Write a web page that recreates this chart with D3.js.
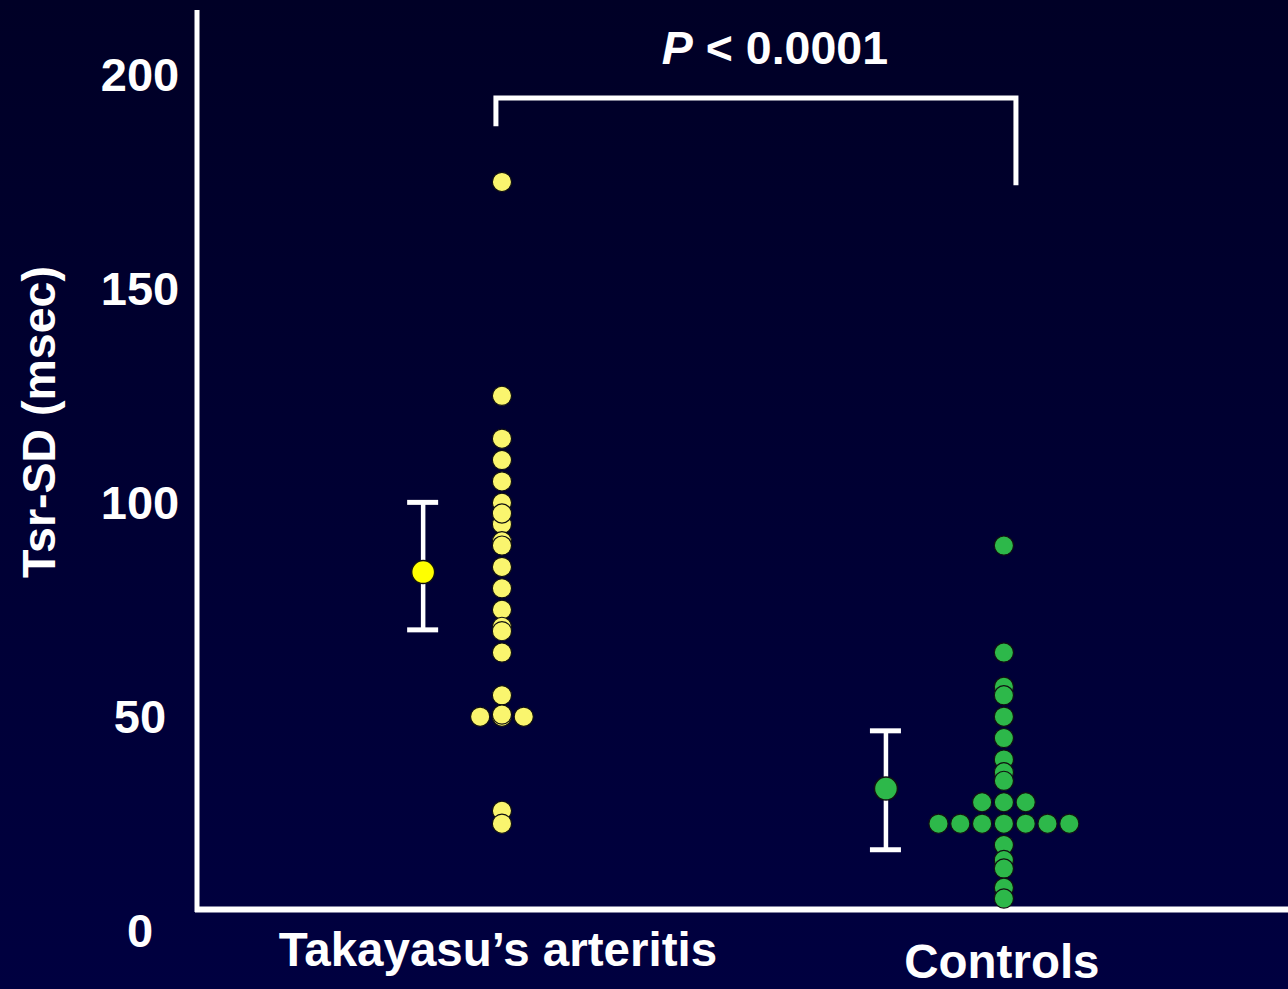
<!DOCTYPE html>
<html>
<head>
<meta charset="utf-8">
<script src="https://cdn.jsdelivr.net/npm/d3@7"></script>
<style>
  html, body { margin: 0; padding: 0; background: #000030; }
  svg { display: block; }
</style>
</head>
<body>
<svg id="chart" width="1288" height="989"></svg>
<script>
// Tsr-SD dot plot, Takayasu's arteritis vs controls
const groups = ['Takayasu\u2019s arteritis', 'Controls'];
const groupPos = [1, 2];          // column position of each group's dots
const meanPos = [0.843, 1.765];   // column position of each group's mean bar
const labelPos = [0.992, 1.996];

const takayasuValues = [175, 125, 115, 110, 105, 100, 95, 97.5, 91, 90, 85, 80, 75, 71, 70, 65, 55,
  50, 50, 50, 50.5, 28, 25];
const controlValues = [90, 65, 57, 55, 50, 45, 40, 37, 35, 30, 30, 30,
  25, 25, 25, 25, 25, 25, 25, 20, 16.5, 14.5, 10, 7.5];

const means = [83.8, 33.2];
const barLow = [70.3, 18.9];
const barHigh = [100.1, 46.7];

const yTicks = [0, 50, 100, 150, 200];
const bracketX = [0.988, 2.024];
const bracketY = [188, 194.6, 174.2]; // left end, top, right end
const pLabel = '< 0.0001';

const dotColors = ['#faf56e', '#2db84a'];
const meanColors = ['#ffff00', '#2db84a'];

const width = 1288;
const height = 989;
const svg = d3.select('#chart');

// Background gradient
const defs = svg.append('defs');
const grad = defs.append('linearGradient')
  .attr('id', 'bg')
  .attr('x1', 0).attr('y1', 0).attr('x2', 0).attr('y2', 1);
grad.append('stop').attr('offset', '0%').attr('stop-color', '#000026');
grad.append('stop').attr('offset', '100%').attr('stop-color', '#000040');
svg.append('rect')
  .attr('width', width)
  .attr('height', height)
  .attr('fill', 'url(#bg)');

const x = d3.scaleLinear().domain([0, 2.566]).range([0, 1288]);
const y = d3.scaleLinear().domain([0, 200]).range([930.6, 75]);

const font = '"Liberation Sans", Arial, Helvetica, sans-serif';
const r = 9.6;
const spacing = 21.8;

// Axes lines
svg.append('line')
  .attr('x1', 197).attr('y1', 10)
  .attr('x2', 197).attr('y2', 912)
  .attr('stroke', '#fff').attr('stroke-width', 5);
svg.append('line')
  .attr('x1', 195).attr('y1', 909.5)
  .attr('x2', width).attr('y2', 909.5)
  .attr('stroke', '#fff').attr('stroke-width', 6);

// Y tick labels
svg.append('g').selectAll('text')
  .data(yTicks)
  .join('text')
  .attr('x', 140)
  .attr('y', d => y(d) + 16)
  .attr('text-anchor', 'middle')
  .attr('fill', '#fff')
  .attr('font-family', font)
  .attr('font-weight', 'bold')
  .attr('font-size', '47px')
  .text(d => d);

// Y axis title
svg.append('text')
  .attr('transform', 'translate(55,422) rotate(-90)')
  .attr('text-anchor', 'middle')
  .attr('fill', '#fff')
  .attr('font-family', font)
  .attr('font-weight', 'bold')
  .attr('font-size', '46.5px')
  .text('Tsr-SD (msec)');

// Group labels
svg.append('g').selectAll('text')
  .data(groups)
  .join('text')
  .attr('x', (d, i) => x(labelPos[i]))
  .attr('y', (d, i) => i === 0 ? 966 : 978)
  .attr('text-anchor', 'middle')
  .attr('fill', '#fff')
  .attr('font-family', font)
  .attr('font-weight', 'bold')
  .attr('font-size', '47.5px')
  .text(d => d);

// Swarm layout: identical values are spread side by side
function swarm(values) {
  const counts = d3.rollup(values, v => v.length, d => d);
  const seen = new Map();
  return values.map(v => {
    const n = counts.get(v);
    const k = seen.get(v) || 0;
    seen.set(v, k + 1);
    return { value: v, offset: (k - (n - 1) / 2) * spacing };
  });
}

[takayasuValues, controlValues].forEach((vals, gi) => {
  svg.append('g').selectAll('circle')
    .data(swarm(vals))
    .join('circle')
    .attr('cx', d => x(groupPos[gi]) + d.offset)
    .attr('cy', d => y(d.value))
    .attr('r', r)
    .attr('fill', dotColors[gi])
    .attr('stroke', '#111')
    .attr('stroke-width', 1.2);
});

// Mean +/- bars
means.forEach((m, i) => {
  const g = svg.append('g');
  const cx = x(meanPos[i]);
  g.append('line')
    .attr('x1', cx).attr('x2', cx)
    .attr('y1', y(barHigh[i])).attr('y2', y(barLow[i]))
    .attr('stroke', '#fff').attr('stroke-width', 4.5);
  [barHigh[i], barLow[i]].forEach(v => {
    g.append('line')
      .attr('x1', cx - 16).attr('x2', cx + 15)
      .attr('y1', y(v)).attr('y2', y(v))
      .attr('stroke', '#fff').attr('stroke-width', 5);
  });
  g.append('circle')
    .attr('cx', cx)
    .attr('cy', y(m))
    .attr('r', 11.5)
    .attr('fill', meanColors[i])
    .attr('stroke', '#111')
    .attr('stroke-width', 1.5);
});

// Significance bracket
svg.append('path')
  .attr('d', d3.line()([
    [x(bracketX[0]), y(bracketY[0])],
    [x(bracketX[0]), y(bracketY[1])],
    [x(bracketX[1]), y(bracketY[1])],
    [x(bracketX[1]), y(bracketY[2])]
  ]))
  .attr('fill', 'none')
  .attr('stroke', '#fff')
  .attr('stroke-width', 5);

const pText = svg.append('text')
  .attr('x', x((bracketX[0] + bracketX[1]) / 2) + 19)
  .attr('y', y(bracketY[1]) - 34)
  .attr('text-anchor', 'middle')
  .attr('fill', '#fff')
  .attr('font-family', font)
  .attr('font-weight', 'bold')
  .attr('font-size', '46.5px');
pText.append('tspan').attr('font-style', 'italic').text('P');
pText.append('tspan').text(' ' + pLabel);
</script>
</body>
</html>
